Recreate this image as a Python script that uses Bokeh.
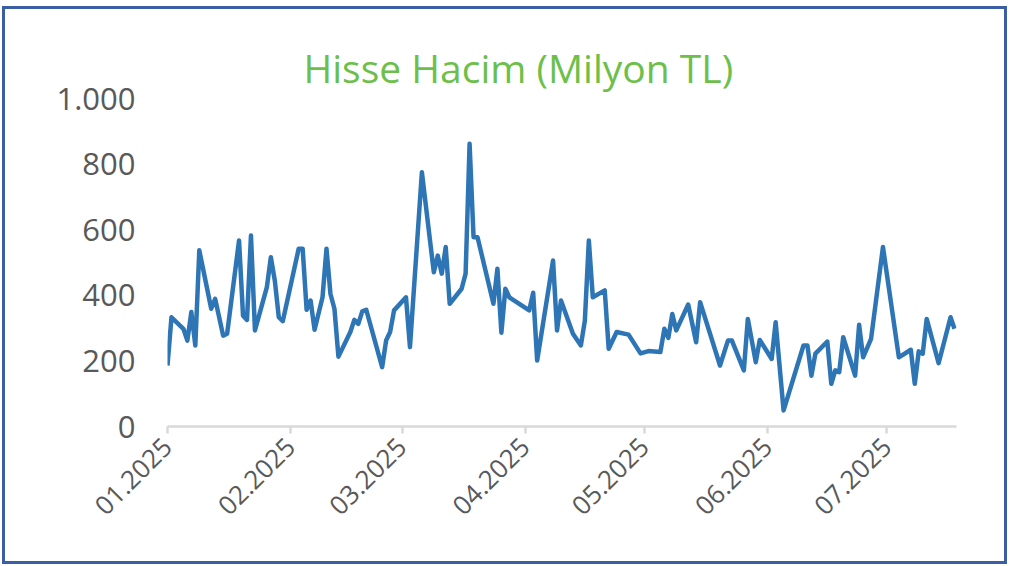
from datetime import datetime
from bokeh.plotting import figure
from bokeh.models import Range1d, FixedTicker, DatetimeTickFormatter, ColumnDataSource
from bokeh.embed import file_html
from bokeh.resources import INLINE
import math

dates = [
    "2025-01-01", "2025-01-02", "2025-01-05", "2025-01-06", "2025-01-07", "2025-01-08", "2025-01-09",
    "2025-01-12", "2025-01-13", "2025-01-15", "2025-01-16", "2025-01-19", "2025-01-20", "2025-01-21",
    "2025-01-22", "2025-01-23", "2025-01-26", "2025-01-27", "2025-01-28", "2025-01-29", "2025-01-30",
    "2025-02-03", "2025-02-04", "2025-02-05", "2025-02-06", "2025-02-07", "2025-02-09", "2025-02-10",
    "2025-02-11", "2025-02-12", "2025-02-13", "2025-02-16", "2025-02-17", "2025-02-18", "2025-02-19",
    "2025-02-20", "2025-02-24", "2025-02-25", "2025-02-26", "2025-02-27", "2025-03-02", "2025-03-03",
    "2025-03-06", "2025-03-09", "2025-03-10", "2025-03-11", "2025-03-12", "2025-03-13", "2025-03-16",
    "2025-03-17", "2025-03-18", "2025-03-19", "2025-03-20", "2025-03-24", "2025-03-25", "2025-03-26",
    "2025-03-27", "2025-03-28", "2025-04-02", "2025-04-03", "2025-04-04", "2025-04-08", "2025-04-09",
    "2025-04-10", "2025-04-13", "2025-04-15", "2025-04-16", "2025-04-17", "2025-04-18", "2025-04-21",
    "2025-04-22", "2025-04-24", "2025-04-27", "2025-04-30", "2025-05-02", "2025-05-05", "2025-05-06",
    "2025-05-07", "2025-05-08", "2025-05-09", "2025-05-12", "2025-05-14", "2025-05-15", "2025-05-20",
    "2025-05-22", "2025-05-23", "2025-05-26", "2025-05-27", "2025-05-29", "2025-05-30", "2025-06-02",
    "2025-06-03", "2025-06-05", "2025-06-10", "2025-06-11", "2025-06-12", "2025-06-13", "2025-06-16",
    "2025-06-17", "2025-06-18", "2025-06-19", "2025-06-20", "2025-06-23", "2025-06-24", "2025-06-25",
    "2025-06-27", "2025-06-30", "2025-07-04", "2025-07-07", "2025-07-08", "2025-07-09", "2025-07-10",
    "2025-07-11", "2025-07-14", "2025-07-17", "2025-07-18",
]
volume = [
    186, 333, 298, 262, 349, 247, 537,
    359, 389, 277, 283, 567, 338, 325,
    582, 293, 425, 516, 445, 333, 321,
    542, 542, 356, 384, 295, 394, 542,
    404, 359, 213, 288, 325, 313, 351,
    356, 181, 262, 288, 354, 394, 242,
    775, 470, 521, 466, 547, 374, 420,
    466, 862, 577, 577, 374, 481, 286,
    420, 394, 354, 408, 201, 506, 293,
    384, 283, 247, 323, 567, 394, 415,
    237, 288, 280, 223, 230, 227, 298,
    270, 343, 293, 372, 257, 379, 186,
    262, 262, 171, 328, 196, 264, 206,
    318, 49, 247, 247, 155, 222, 259,
    130, 171, 166, 272, 155, 310, 211,
    267, 547, 211, 234, 130, 229, 222,
    328, 193, 333, 298,
]
month_ticks = ["2025-01-01", "2025-02-01", "2025-03-01", "2025-04-01",
               "2025-05-01", "2025-06-01", "2025-07-01"]
y_ticks = [0, 200, 400, 600, 800, 1000]
y_labels = {1000: "1.000"}
title_text = "Hisse Hacim (Milyon TL)"

FONT = "Open Sans"
GREY = "#595959"

def to_ms(s):
    return datetime.strptime(s, "%Y-%m-%d").timestamp() * 1000.0

x = [datetime.strptime(d, "%Y-%m-%d") for d in dates]
src = ColumnDataSource(dict(x=x, y=volume))

p = figure(width=1005, height=558, output_backend="svg", toolbar_location=None,
           x_axis_type="datetime",
           x_range=Range1d(datetime(2025, 1, 1), datetime(2025, 7, 18, 12)),
           y_range=Range1d(0, 1000),
           min_border_left=162, min_border_right=54, min_border_top=89, min_border_bottom=141)
p.styles = {"border": "3px solid #3B5EA6", "box-sizing": "border-box",
            "margin-left": "2px", "margin-top": "6px"}

p.title.text = title_text
p.title.text_font = FONT
p.title.text_font_size = "39px"
p.title.text_font_style = "normal"
p.title.text_color = "#6CC04A"
p.title.align = "left"
p.title.offset = 136
p.title.standoff = 10

p.line("x", "y", source=src, line_color="#2E75B6", line_width=4.5, line_join="round")

p.xgrid.visible = False
p.ygrid.visible = False
p.outline_line_color = None
p.background_fill_color = "white"
p.border_fill_color = "white"

xa = p.xaxis[0]
xa.ticker = FixedTicker(ticks=[to_ms(t) for t in month_ticks])
fmt = "%m.%Y"
xa.formatter = DatetimeTickFormatter(milliseconds=fmt, seconds=fmt, minsec=fmt, minutes=fmt,
                                     hourmin=fmt, hours=fmt, days=fmt, months=fmt, years=fmt)
xa.major_label_orientation = math.pi / 4
xa.major_label_text_font = FONT
xa.major_label_text_font_size = "26px"
xa.major_label_text_color = GREY
xa.axis_line_color = "#D9D9D9"
xa.axis_line_width = 2.5
xa.major_tick_line_color = "#D9D9D9"
xa.major_tick_line_width = 2.5
xa.major_tick_out = 7
xa.major_tick_in = 0
xa.minor_tick_line_color = None
xa.major_label_standoff = 9

ya = p.yaxis[0]
ya.ticker = FixedTicker(ticks=y_ticks)
ya.major_label_overrides = y_labels
ya.major_label_text_font = FONT
ya.major_label_text_font_size = "31px"
ya.major_label_text_color = GREY
ya.axis_line_color = None
ya.major_tick_line_color = None
ya.minor_tick_line_color = None
ya.major_label_standoff = 26

open("out.html", "w").write(file_html(p, INLINE))
